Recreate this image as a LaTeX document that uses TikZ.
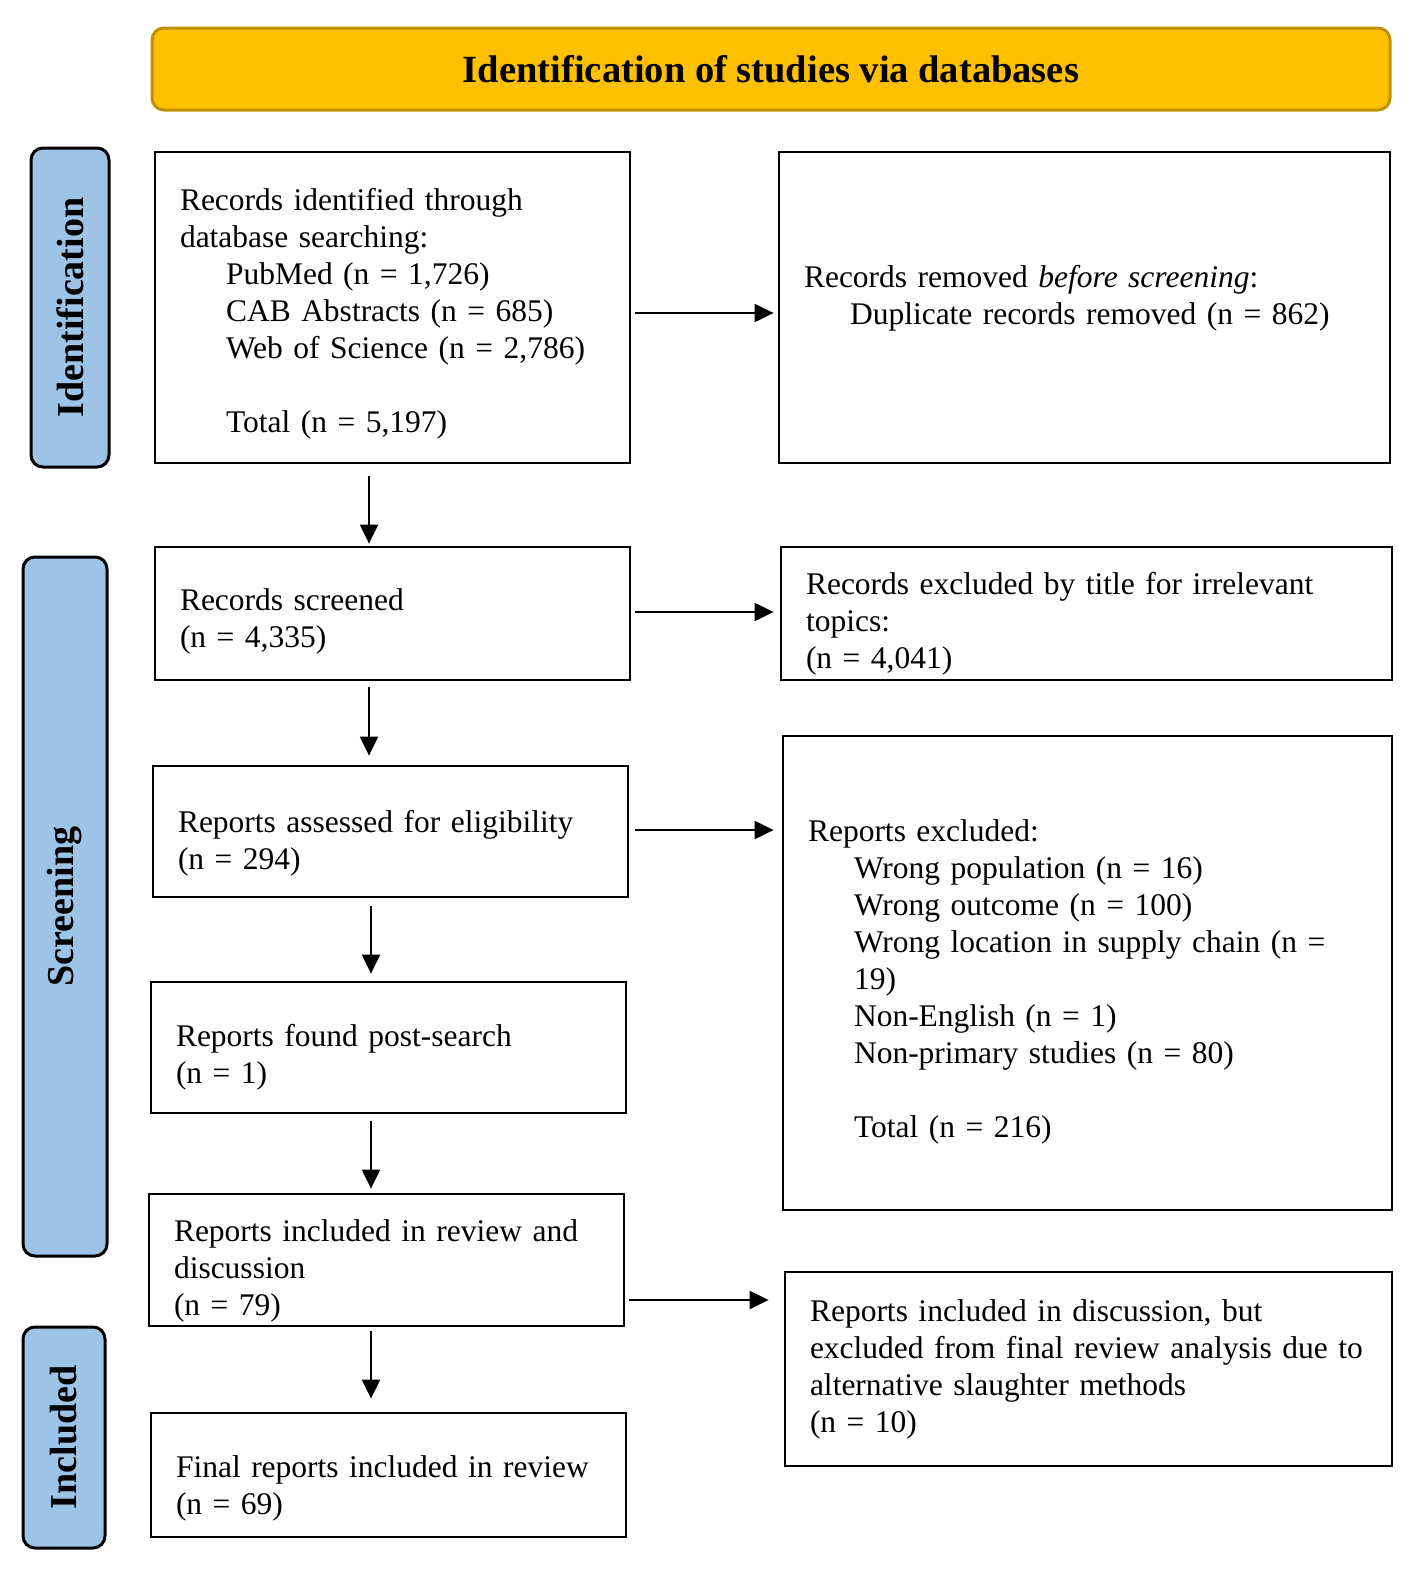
\documentclass[tikz,border=0pt]{standalone}
\usepackage{fontspec}
\setmainfont{Liberation Serif}
\usetikzlibrary{arrows.meta,calc}
\definecolor{gold}{HTML}{FFC000}
\definecolor{golddark}{HTML}{BF9000}
\definecolor{sideblue}{HTML}{9DC3E6}
\newcommand{\ind}{\hspace*{46pt}}
\newcommand{\dn}[1]{\rule{0pt}{\dimexpr 22pt+#1pt*2\relax}}
\newcommand{\up}[1]{\rule[-\dimexpr 7pt+#1pt*2\relax]{0pt}{0pt}}
\begin{document}
\begin{tikzpicture}[x=1pt,y=-1pt,
  box/.style={draw, line width=2.8pt, rectangle, align=left, inner xsep=25pt, inner ysep=0pt,
    font=\fontsize{31.5}{37}\selectfont},
  side/.style={draw, line width=3pt, rounded corners=12pt, fill=sideblue, rotate=90,
    font=\bfseries\fontsize{38}{40}\selectfont, inner sep=0pt},
  titlebox/.style={draw=golddark, fill=gold, line width=3pt, rounded corners=12pt,
    font=\bfseries\fontsize{38.5}{40}\selectfont, inner sep=0pt},
  arr/.style={line width=2.2pt, -{Triangle[length=19pt,width=18pt]}}
]
\useasboundingbox (0,0) rectangle (1417,1574);

\node[titlebox, minimum width=1238pt, minimum height=82pt] (title) at (771,69) {Identification of studies via databases};

\node[side, minimum width=319pt, minimum height=78pt] (sid) at (70,307.5) {Identification};
\node[side, minimum width=699pt, minimum height=84pt] (sscr) at (65,906.5) {Screening};
\node[side, minimum width=221pt, minimum height=82pt] (sinc) at (64,1437.5) {Included};

\node[box, minimum width=475pt, minimum height=311pt, text width=425pt] (ident) at (392.5,307.5)
 {\dn{6}Records identified through\\ database searching:\\ \ind PubMed (n = 1,726)\\ \ind CAB Abstracts (n = 685)\\ \ind Web of Science (n = 2,786)\\[37pt] \ind Total (n = 5,197)};

\node[box, minimum width=611pt, minimum height=311pt, text width=561pt] (removed) at (1084.5,307.5)
 {Records removed \textit{before screening}:\\ \ind Duplicate records removed (n = 862)\up{9}};

\node[box, minimum width=475pt, minimum height=133pt, text width=425pt] (screened) at (392.5,613.5)
 {\dn{8}Records screened\\ (n = 4,335)};

\node[box, minimum width=611pt, minimum height=133pt, text width=561pt] (excl1) at (1086.5,613.5)
 {\dn{10}Records excluded by title for irrelevant\\ topics:\\ (n = 4,041)};

\node[box, minimum width=475pt, minimum height=131pt, text width=425pt] (assessed) at (390.5,831.5)
 {\dn{12}Reports assessed for eligibility\\ (n = 294)};

\node[box, minimum width=609pt, minimum height=474pt, text width=559pt] (excl2) at (1087.5,973)
 {\dn{9}Reports excluded:\\ \ind Wrong population (n = 16)\\ \ind Wrong outcome (n = 100)\\ \ind Wrong location in supply chain (n =\\ \ind 19)\\ \ind Non-English (n = 1)\\ \ind Non-primary studies (n = 80)\\[37pt] \ind Total (n = 216)};

\node[box, minimum width=475pt, minimum height=131pt, text width=425pt] (post) at (388.5,1047.5)
 {\dn{10}Reports found post-search\\ (n = 1)};

\node[box, minimum width=475pt, minimum height=132pt, text width=425pt] (incl) at (386.5,1260)
 {\dn{11}Reports included in review and\\ discussion\\ (n = 79)};

\node[box, minimum width=607pt, minimum height=194pt, text width=557pt] (excl3) at (1088.5,1369)
 {Reports included in discussion, but\\ excluded from final review analysis due to\\ alternative slaughter methods\\ (n = 10)};

\node[box, minimum width=475pt, minimum height=124pt, text width=425pt] (final) at (388.5,1475)
 {\dn{13}Final reports included in review\\ (n = 69)};

% horizontal arrows
\coordinate (h1) at ([yshift=-5.5pt]ident.east);
\draw[arr, shorten <=4pt, shorten >=4pt] (h1) -- (h1 -| removed.west);
\coordinate (h2) at ([yshift=1.5pt]screened.east);
\draw[arr, shorten <=4pt, shorten >=6pt] (h2) -- (h2 -| excl1.west);
\coordinate (h3) at ([yshift=1.5pt]assessed.east);
\draw[arr, shorten <=6pt, shorten >=8pt] (h3) -- (h3 -| excl2.west);
\coordinate (h5) at ([yshift=-40pt]incl.east);
\draw[arr, shorten <=4pt, shorten >=15pt] (h5) -- (h5 -| excl3.west);

% vertical arrows
\coordinate (v1) at ([xshift=-23.5pt]ident.south);
\draw[arr, shorten <=12pt, shorten >=2pt] (v1) -- (v1 |- screened.north);
\coordinate (v2) at ([xshift=-23.5pt]screened.south);
\draw[arr, shorten <=6pt, shorten >=9pt] (v2) -- (v2 |- assessed.north);
\coordinate (v3) at ([xshift=-19.5pt]assessed.south);
\draw[arr, shorten <=8pt, shorten >=7pt] (v3) -- (v3 |- post.north);
\coordinate (v4) at ([xshift=-17.5pt]post.south);
\draw[arr, shorten <=7pt, shorten >=4pt] (v4) -- (v4 |- incl.north);
\coordinate (v5) at ([xshift=-15.5pt]incl.south);
\draw[arr, shorten <=4pt, shorten >=13pt] (v5) -- (v5 |- final.north);
\end{tikzpicture}
\end{document}
